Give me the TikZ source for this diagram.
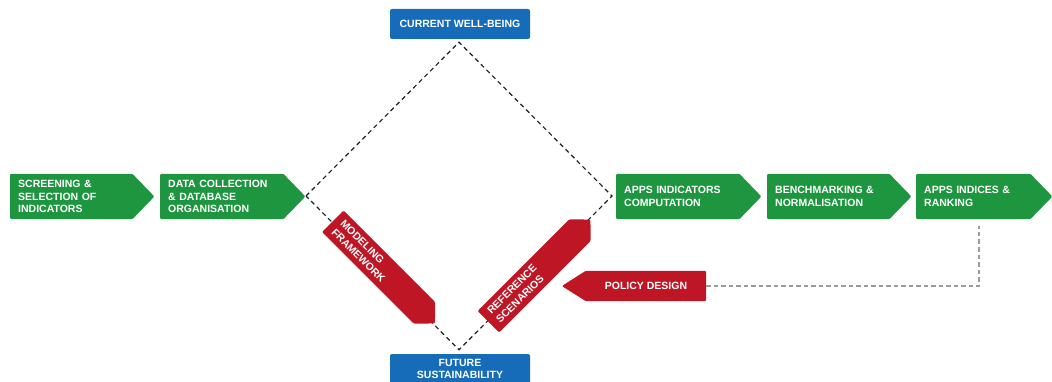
\documentclass[tikz,border=0pt]{standalone}
\usepackage{fontspec}
\setmainfont{Liberation Sans}
\usetikzlibrary{calc,backgrounds}

\definecolor{stepgreen}{RGB}{30,150,64}
\definecolor{stepred}{RGB}{190,22,36}
\definecolor{stepblue}{RGB}{22,108,184}
\definecolor{linkgray}{RGB}{155,155,155}
\definecolor{loopgray}{RGB}{30,30,30}

% fill a pentagon arrow body behind node #1, tip of length #2 on the east side
\newcommand\eastarrowbody[3]{%
  \fill[#3, rounded corners=1.2pt] (#1.north west) -- (#1.north east)
    -- ($(#1.east)!-#2!(#1.west)$) -- (#1.south east) -- (#1.south west) -- cycle;}
% same, tip on the west side
\newcommand\westarrowbody[3]{%
  \fill[#3, rounded corners=1.2pt] (#1.north east) -- (#1.north west)
    -- ($(#1.west)!-#2!(#1.east)$) -- (#1.south west) -- (#1.south east) -- cycle;}

\tikzset{
  lbl/.style={font=\fontsize{10.5}{12.5}\selectfont\bfseries, text=white},
  greenstep/.style={lbl, rectangle, anchor=west, minimum height=45pt,
    inner xsep=8pt, inner ysep=0pt, align=left},
  redstep/.style={lbl, rectangle, minimum height=30pt, minimum width=129pt,
    inner xsep=7pt, inner ysep=0pt, text width=115pt, align=left},
  stateblock/.style={lbl, rectangle, fill=stepblue, rounded corners=2pt,
    minimum width=140pt, minimum height=30pt, inner sep=0pt, align=center},
  loopline/.style={draw=loopgray, line width=1.15pt, dash pattern=on 4.5pt off 3.5pt},
  linkline/.style={draw=linkgray, line width=1.6pt, dash pattern=on 4.5pt off 3pt}
}

\begin{document}
\begin{tikzpicture}[x=1pt,y=-1pt]
  \clip (0,0) rectangle (1052,382);
  \useasboundingbox (0,0) rectangle (1052,382);

  % main chain of steps
  \node[greenstep, minimum width=122pt, text width=106pt] (screen) at (10,196.5)
    {SCREENING \&\\SELECTION OF\\INDICATORS};
  \node[greenstep, minimum width=123pt, text width=107pt] (collect) at (160,196.5)
    {DATA COLLECTION\\\& DATABASE\\ORGANISATION};
  \node[greenstep, minimum width=123pt, text width=107pt] (compute) at (616,196.5)
    {APPS INDICATORS\\COMPUTATION};
  \node[greenstep, minimum width=122pt, text width=106pt] (bench) at (767,196.5)
    {BENCHMARKING \&\\NORMALISATION};
  \node[greenstep, minimum width=114pt, text width=98pt] (rank) at (916,196.5)
    {APPS INDICES \&\\RANKING\\[2pt]};

  % states at the ends of the loop
  \node[stateblock] (current) at (460,24) {CURRENT WELL-BEING};
  \node[stateblock, text depth=0pt] (future) at (460,369)
    {FUTURE\\[-1pt]SUSTAINABILITY};

  % modelling steps
  \node[redstep, rotate=-45] (model) at (378.6,267.1) {MODELING\\FRAMEWORK};
  \node[redstep, rotate=45] (scen) at (534.1,275.9) {REFERENCE\\SCENARIOS};
  \node[lbl, rectangle, minimum width=120pt, minimum height=30pt, inner sep=0pt]
    (policy) at (646,286) {POLICY DESIGN};

  % corners of the loop
  \coordinate (ltop) at ($(current.south)+(-1,3)$);
  \coordinate (lbot) at ($(future.north)+(-1,-4)$);
  \coordinate (lleft) at (306,196);
  \coordinate (lright) at (612,196);
  \coordinate (rankfoot) at ($(rank.south)+(6,7)$);

  \begin{scope}[on background layer]
    \draw[loopline] (lleft) -- (ltop) -- (lright) -- (lbot) -- cycle;
    \eastarrowbody{screen}{22pt}{stepgreen}
    \eastarrowbody{collect}{22pt}{stepgreen}
    \eastarrowbody{compute}{22pt}{stepgreen}
    \eastarrowbody{bench}{22pt}{stepgreen}
    \eastarrowbody{rank}{22pt}{stepgreen}
    \eastarrowbody{model}{15pt}{stepred}
    \eastarrowbody{scen}{15pt}{stepred}
    \westarrowbody{policy}{24pt}{stepred}
  \end{scope}

  % feedback from the ranking to policy design
  \draw[linkline] (policy.east) -| (rankfoot);
\end{tikzpicture}
\end{document}
